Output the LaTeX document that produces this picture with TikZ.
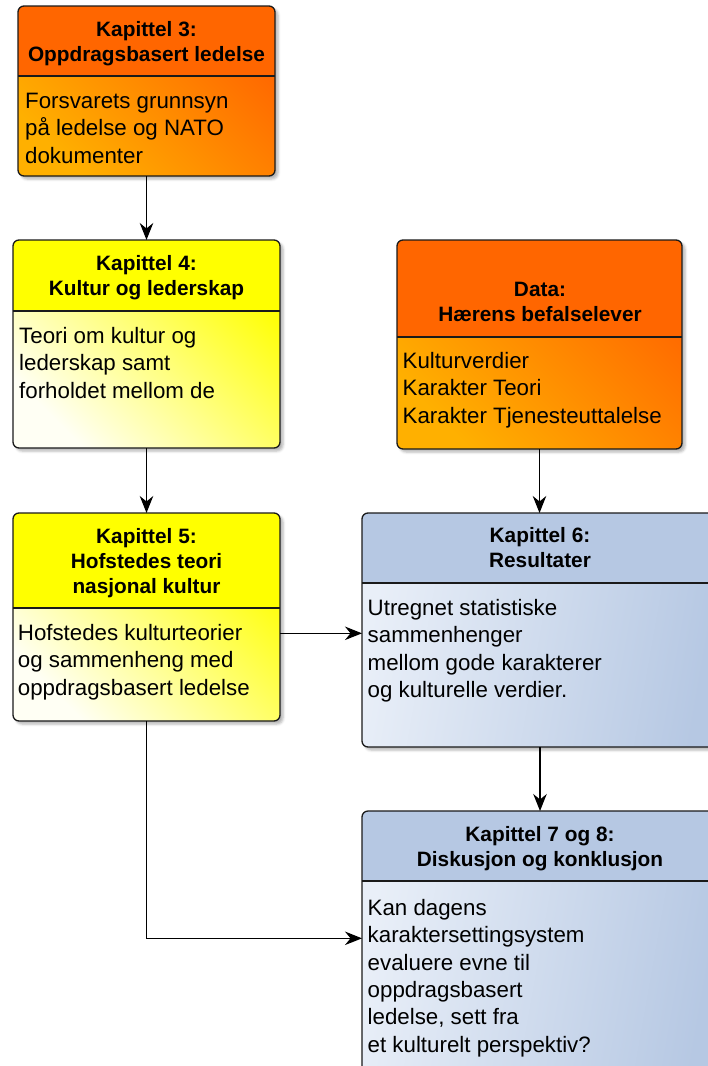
\documentclass[tikz,border=0pt]{standalone}
\usepackage{fontspec}
\setmainfont{Liberation Sans}
\usetikzlibrary{arrows.meta,shadows.blur}

\definecolor{orangeHead}{HTML}{FF6600}
\definecolor{orangeLight}{HTML}{FFB000}
\definecolor{yellowHead}{HTML}{FFFF00}
\definecolor{yellowLight}{HTML}{FFFFF4}
\definecolor{blueHead}{HTML}{B6C8E3}
\definecolor{blueLight}{HTML}{E9EFF8}
\definecolor{edge}{HTML}{1A1A1A}

% invisible strut that fixes the height of a first text line
\newcommand\firstline{\rule{0pt}{20pt}}

\tikzset{
  % chapter box: #1 header colour, #2 light body colour, #3 dark body colour,
  % #4 header height, #5 gradient angle
  chapter/.style n args={5}{
    draw=edge, line width=1.3pt, rounded corners=6pt, fill=white,
    inner sep=0pt, outer sep=0pt, anchor=north west,
    blur shadow={shadow xshift=3pt, shadow yshift=-3pt,
                 shadow blur radius=2.5pt, shadow opacity=30},
    path picture={
      \shade[sharp corners, bottom color=#2, top color=#3, shading angle=#5]
        (path picture bounding box.south west)
        rectangle ([yshift=-#4]path picture bounding box.north east);
      \fill[sharp corners, #1]
        (path picture bounding box.north west)
        rectangle ([yshift=-#4]path picture bounding box.north east);
      \draw[sharp corners, edge, line width=1.3pt]
        ([yshift=-#4]path picture bounding box.north west)
        -- ([yshift=-#4]path picture bounding box.north east);
    }
  },
  headtext/.style={font=\bfseries\fontsize{20.8}{25}\selectfont,
    align=center, inner sep=0pt, anchor=north},
  bodytext/.style={font=\fontsize{22.3}{27.4}\selectfont,
    align=left, inner sep=0pt, anchor=north west},
  conn/.style={draw=black, line width=1.4pt,
    -{Stealth[length=17pt, width=13.5pt, inset=5.5pt]}},
}

\begin{document}
\begin{tikzpicture}[x=1pt, y=-1pt]
\useasboundingbox (0,0) rectangle (708,1066);
\clip (0,0) rectangle (708,1066);

% boxes
\node[chapter={orangeHead}{orangeLight}{orangeHead}{70pt}{-45},
      minimum width=257pt, minimum height=170pt] (k3) at (18,6) {};
\node[chapter={yellowHead}{yellowLight}{yellowHead}{71pt}{-45},
      minimum width=267pt, minimum height=208pt] (k4) at (13,240) {};
\node[chapter={orangeHead}{orangeLight}{orangeHead}{97pt}{-45},
      minimum width=285pt, minimum height=209pt] (data) at (397,240) {};
\node[chapter={yellowHead}{yellowLight}{yellowHead}{95pt}{-45},
      minimum width=267pt, minimum height=208pt] (k5) at (13,513) {};
\node[chapter={blueHead}{blueLight}{blueHead}{70pt}{-100},
      minimum width=356pt, minimum height=234pt] (k6) at (362,513) {};
\node[chapter={blueHead}{blueLight}{blueHead}{70pt}{-100},
      minimum width=356pt, minimum height=270pt] (k7) at (362,811) {};

% headers
\node[headtext] (k3h) at (146.5,16) {\firstline Kapittel 3:\\Oppdragsbasert ledelse};
\node[headtext] (k4h) at (146.5,250.7) {\firstline Kapittel 4:\\Kultur og lederskap};
\node[headtext] (datah) at (540,276.7) {\firstline Data:\\Hærens befalselever};
\node[headtext] (k5h) at (146.5,523.3) {\firstline Kapittel 5:\\Hofstedes teori\\nasjonal kultur};
\node[headtext] (k6h) at (540,522.7) {\firstline Kapittel 6:\\Resultater};
\node[headtext] (k7h) at (540,821) {\firstline Kapittel 7 og 8:\\Diskusjon og konklusjon};

% body texts
\node[bodytext] (k3b) at (25,88.3) {\firstline Forsvarets grunnsyn\\på ledelse og NATO\\dokumenter};
\node[bodytext] (k4b) at (19,323.3) {\firstline Teori om kultur og\\lederskap samt\\forholdet mellom de};
\node[bodytext] (datab) at (402.5,348.3) {\firstline Kulturverdier\\Karakter Teori\\Karakter Tjenesteuttalelse};
\node[bodytext] (k5b) at (17.7,620) {\firstline Hofstedes kulturteorier\\og sammenheng med\\oppdragsbasert ledelse};
\node[bodytext] (k6b) at (367.5,595) {\firstline Utregnet statistiske\\sammenhenger\\mellom gode karakterer\\og kulturelle verdier.};
\node[bodytext] (k7b) at (367.5,895) {\firstline Kan dagens\\karaktersettingsystem\\evaluere evne til\\oppdragsbasert\\ledelse, sett fra\\et kulturelt perspektiv?};

% connector levels
\coordinate (levA) at (0,633.3);
\coordinate (levB) at (0,938.3);

% connectors
\draw[conn] (k3.south) -- (k4.north);
\draw[conn] (k4.south) -- (k5.north);
\draw[conn] (data.south) -- (data.south |- k6.north);
\draw[conn] (k6.south) -- (k7.north);
\draw[conn] (k5.east |- levA) -- (k6.west |- levA);
\draw[conn] (k5.south) |- (k7.west |- levB);
\end{tikzpicture}
\end{document}
